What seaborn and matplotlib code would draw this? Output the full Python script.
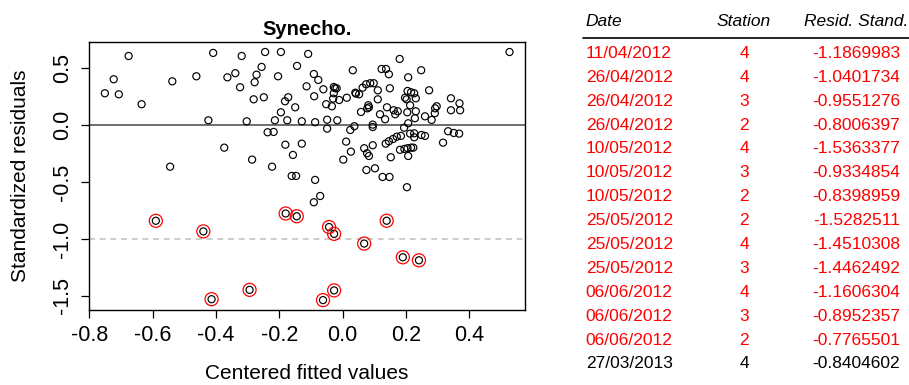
import numpy as np
import pandas as pd
import matplotlib
matplotlib.use("Agg")
import matplotlib.pyplot as plt
import seaborn as sns

# residuals vs centered fitted values
fitted = [-0.676, -0.409, -0.319, -0.245, -0.195, -0.109, -0.723, -0.538, -0.462, -0.364,
          -0.339, -0.256, -0.272, -0.278, -0.204, -0.144, -0.751, -0.707, -0.635, -0.324,
          -0.114, -0.281, -0.249, -0.182, -0.172, -0.150, -0.195, -0.424, -0.303, -0.214,
          -0.175, -0.129, -0.237, -0.218, -0.374, -0.181, -0.129, -0.157, -0.286, -0.545,
          -0.223, -0.161, -0.147,
          0.527, 0.180, 0.032, 0.123, 0.137, 0.146, 0.248, 0.207, -0.091, -0.077,
          -0.061, -0.090, -0.028, -0.024, -0.019, -0.028, -0.030, -0.011, 0.013, -0.052,
          -0.034, 0.040, 0.042, 0.052, 0.063, 0.074, 0.087, 0.098, 0.111, 0.149,
          0.111, 0.081, 0.078, 0.083, 0.058, 0.118, 0.140, 0.134, 0.161, 0.174,
          0.166, 0.205, 0.216, 0.226, 0.197, 0.202, 0.231, 0.213, 0.204, 0.231,
          0.228, 0.207, 0.273, 0.297, 0.292, 0.291, 0.281, 0.260, 0.342, 0.369,
          0.342, 0.371, -0.087, -0.049, -0.017, -0.049, 0.024, 0.037, 0.095, 0.095,
          0.194, 0.213, 0.226, 0.226, 0.249, 0.260, 0.333, 0.351, 0.368, 0.317,
          0.011, 0.026, 0.002, 0.068, 0.095, 0.077, 0.083, 0.136, 0.146, 0.159,
          0.171, 0.184, 0.181, 0.195, 0.205, 0.216, 0.223, 0.207, 0.152, 0.102,
          0.075, 0.126, 0.148, 0.203, -0.087, -0.071, -0.091]
resid = [0.605, 0.632, 0.605, 0.640, 0.640, 0.623, 0.401, 0.383, 0.427, 0.418,
         0.454, 0.509, 0.441, 0.375, 0.427, 0.518, 0.278, 0.269, 0.182, 0.331,
         0.339, 0.225, 0.243, 0.208, 0.243, 0.155, 0.111, 0.041, 0.032, 0.041,
         0.041, 0.032, -0.064, -0.061, -0.199, -0.173, -0.164, -0.263, -0.304, -0.366,
         -0.366, -0.447, -0.447,
         0.640, 0.579, 0.480, 0.491, 0.491, 0.445, 0.480, 0.418, 0.447, 0.395,
         0.313, 0.252, 0.333, 0.322, 0.322, 0.278, 0.231, 0.219, 0.239, 0.182,
         0.164, 0.283, 0.275, 0.269, 0.327, 0.357, 0.366, 0.366, 0.304, 0.322,
         0.225, 0.173, 0.146, 0.155, 0.114, 0.094, 0.155, 0.050, 0.129, 0.120,
         0.094, 0.298, 0.287, 0.278, 0.239, 0.225, 0.234, 0.173, 0.111, 0.120,
         0.059, 0.015, 0.304, 0.164, 0.146, 0.103, 0.044, 0.076, 0.234, 0.190,
         0.129, 0.129, 0.024, 0.046, 0.041, -0.032, -0.044, -0.011, 0.003, -0.018,
         -0.024, -0.076, -0.073, -0.108, -0.088, -0.096, -0.055, -0.070, -0.076, -0.155,
         -0.146, -0.234, -0.304, -0.204, -0.178, -0.248, -0.272, -0.164, -0.143, -0.123,
         -0.103, -0.096, -0.218, -0.210, -0.204, -0.199, -0.199, -0.272, -0.283, -0.380,
         -0.395, -0.456, -0.456, -0.546, -0.482, -0.623, -0.678]

# flagged observations (circled in red)
out_fitted = [0.241, 0.068, -0.027, -0.145, -0.062, -0.440, 0.139, -0.414, -0.027,
              -0.294, 0.190, -0.043, -0.180, -0.590]
dates = ["11/04/2012", "26/04/2012", "26/04/2012", "26/04/2012", "10/05/2012",
         "10/05/2012", "10/05/2012", "25/05/2012", "25/05/2012", "25/05/2012",
         "06/06/2012", "06/06/2012", "06/06/2012", "27/03/2013"]
stations = [4, 4, 3, 2, 4, 3, 2, 2, 4, 3, 4, 3, 2, 4]
out_resid = [-1.1869983, -1.0401734, -0.9551276, -0.8006397, -1.5363377, -0.9334854,
             -0.8398959, -1.5282511, -1.4510308, -1.4462492, -1.1606304, -0.8952357,
             -0.7765501, -0.8404602]
row_colors = ["red"] * 13 + ["black"]

df = pd.DataFrame({"fitted": fitted + out_fitted, "resid": resid + out_resid})
out = pd.DataFrame({"fitted": out_fitted, "resid": out_resid})

sns.set_style("white")
plt.rcParams["font.family"] = ["Liberation Sans", "DejaVu Sans"]
plt.rcParams["axes.unicode_minus"] = False
plt.rcParams["text.color"] = "black"
plt.rcParams["axes.labelcolor"] = "black"
plt.rcParams["xtick.color"] = "black"
plt.rcParams["ytick.color"] = "black"

fig = plt.figure(figsize=(9.09, 3.85), dpi=100)
ax = fig.add_axes([0.0976, 0.1948, 0.48, 0.6953])

ax.axhline(0, color="#555555", lw=1.2, zorder=1)
ax.axhline(-1, color="#cccccc", lw=1.4, ls=(0, (3, 2.5)), zorder=1)

sns.scatterplot(data=df, x="fitted", y="resid", ax=ax, marker="o", s=26,
                facecolor="none", edgecolor="black", linewidth=0.85, zorder=3)
sns.scatterplot(data=out, x="fitted", y="resid", ax=ax, marker="o", s=88,
                facecolor="none", edgecolor="red", linewidth=0.9, zorder=3)

ax.set_xlim(-0.802, 0.576)
ax.set_ylim(-1.623, 0.725)
ax.set_xticks([-0.8, -0.6, -0.4, -0.2, 0.0, 0.2, 0.4])
ax.set_yticks([-1.5, -1.0, -0.5, 0.0, 0.5])
ax.set_xticklabels(["-0.8", "-0.6", "-0.4", "-0.2", "0.0", "0.2", "0.4"])
ax.set_yticklabels(["-1.5", "-1.0", "-0.5", "0.0", "0.5"], rotation=90, va="center")
ax.tick_params(direction="out", length=6, width=0.9, color="black",
               labelsize=15.5, pad=5, left=True, bottom=True)
for sp in ax.spines.values():
    sp.set_color("black")
    sp.set_linewidth(1.0)

ax.set_xlabel("Centered fitted values", fontsize=15, labelpad=13)
ax.set_ylabel("Standardized residuals", fontsize=15, labelpad=16)
ax.set_title("Synecho.", fontsize=14.5, fontweight="bold", pad=5)

# table of flagged residuals
W, H = 909, 385
fig.text(585.7 / W, 1 - 22 / H, "Date", fontsize=12.5, style="italic", va="center", ha="left")
fig.text(744 / W, 1 - 22 / H, "Station", fontsize=12.5, style="italic", va="center", ha="center")
fig.text(908 / W, 1 - 22 / H, "Resid. Stand.", fontsize=12.5, style="italic", va="center", ha="right")
fig.add_artist(plt.Line2D([583 / W, 909 / W], [1 - 37.7 / H, 1 - 37.7 / H], color="black", lw=1.2))
for i, (d, st, r, c) in enumerate(zip(dates, stations, out_resid, row_colors)):
    yy = 1 - (53.3 + i * 23.9) / H
    fig.text(585.7 / W, yy, d, fontsize=12.5, color=c, va="center", ha="left")
    fig.text(744 / W, yy, str(st), fontsize=12.5, color=c, va="center", ha="center")
    fig.text(900 / W, yy, f"{r:.7f}", fontsize=12.5, color=c, va="center", ha="right")

fig.savefig("out.png", dpi=100)
